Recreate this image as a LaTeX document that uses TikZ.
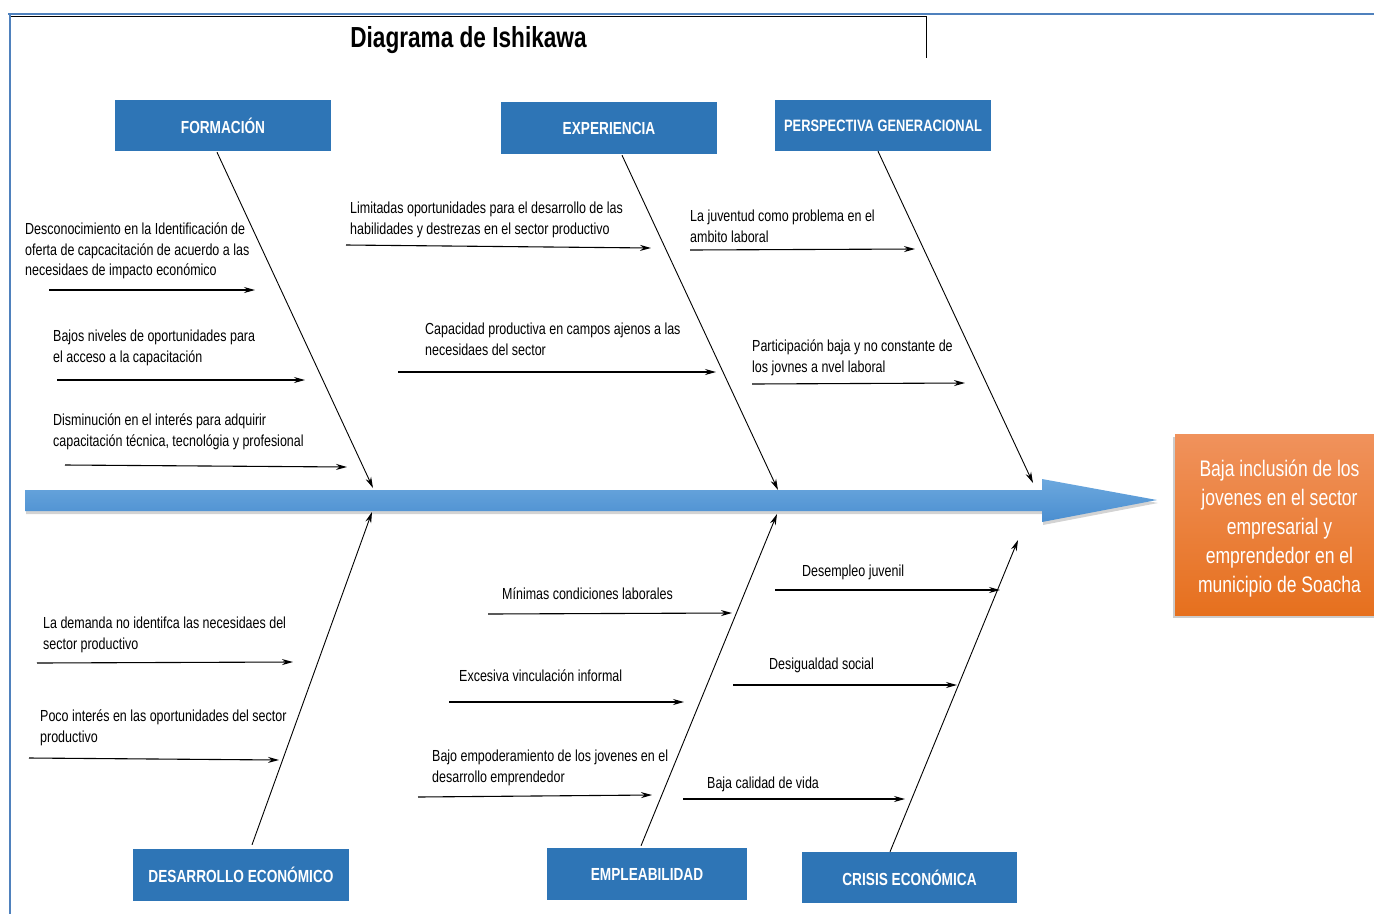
\documentclass[tikz,border=0pt]{standalone}
\usepackage{fontspec}
\setmainfont{Liberation Sans}[FakeStretch=0.78]
\usetikzlibrary{arrows.meta,shadows}
\definecolor{hdrblue}{HTML}{2E75B6}
\definecolor{frameblue}{HTML}{4F81BD}
\definecolor{spinetop}{HTML}{6CA8DE}
\definecolor{spinebot}{HTML}{4A8ED0}
\definecolor{goaltop}{HTML}{F0925C}
\definecolor{goalbot}{HTML}{E6701E}
\tikzset{
  hdr/.style={fill=hdrblue, text=white, inner sep=0pt, minimum width=216pt, minimum height=51pt, font=\bfseries\fontsize{17.5}{19}\selectfont},
  lbl/.style={anchor=north west, align=left, inner sep=0pt, font=\fontsize{16}{20.5}\selectfont},
  bone/.style={-{Stealth[length=11pt,width=6pt]}, line width=0.9pt},
  cause/.style={-{Stealth[length=11pt,width=6pt]}, line width=1.1pt},
}
\begin{document}
\begin{tikzpicture}[x=1pt,y=-1pt]
\useasboundingbox (0,0) rectangle (1374,914);
\draw[frameblue, line width=2pt] (8,14) -- (1374,14);
\draw[line width=1pt] (9,16) -- (926,16) -- (926,58);
\draw[frameblue, line width=2pt] (9.5,14) -- (9.5,914);
\node[font=\bfseries\fontsize{29}{32}\selectfont, anchor=base] (title) at (468.5,47) {Diagrama de Ishikawa};
\path[top color=spinetop, bottom color=spinebot, drop shadow={shadow xshift=1pt, shadow yshift=-3pt, opacity=0.35}] (25,490) -- (1042,490) -- (1042,479) -- (1157,500) -- (1042,522) -- (1042,511) -- (25,511) -- cycle;
\node[top color=goaltop, bottom color=goalbot, inner sep=0pt, minimum width=209pt, minimum height=181pt, drop shadow={shadow xshift=-2pt, shadow yshift=-3pt, opacity=0.4}] (goal) at (1279.5,524.5) {};
\node[text=white, align=center, inner sep=0pt, font=\fontsize{22.5}{29}\selectfont] (goaltxt) at ([yshift=-4pt]goal.center) {Baja inclusión de los\\jovenes en el sector\\empresarial y\\emprendedor en el\\municipio de Soacha};
\node[hdr] (form) at (223,125.5) {FORMACIÓN};
\node[hdr, minimum height=52pt] (expe) at (609,128) {EXPERIENCIA};
\node[hdr, font=\bfseries\fontsize{16.5}{18}\selectfont] (persp) at (883,125.5) {PERSPECTIVA GENERACIONAL};
\node[hdr, minimum height=52pt] (desa) at (241,875) {DESARROLLO ECONÓMICO};
\node[hdr, minimum width=200pt, minimum height=52pt] (empl) at (647,874) {EMPLEABILIDAD};
\node[hdr, minimum width=215pt] (cris) at (909.5,877.5) {CRISIS ECONÓMICA};
\coordinate (formTip) at (373,488);
\coordinate (expeTip) at (778,490);
\coordinate (perspTip) at (1033,483);
\coordinate (desaTip) at (372,512);
\coordinate (emplTip) at (777,514);
\coordinate (crisTip) at (1018,540);
\draw[bone] ([xshift=-6pt,yshift=-1pt]form.south) -- (formTip);
\draw[bone] ([xshift=13pt,yshift=-1pt]expe.south) -- (expeTip);
\draw[bone] ([xshift=-5pt]persp.south) -- (perspTip);
\draw[bone] ([xshift=11pt,yshift=4pt]desa.north) -- (desaTip);
\draw[bone] ([xshift=-6pt,yshift=2pt]empl.north) -- (emplTip);
\draw[bone] ([xshift=-19.5pt]cris.north) -- (crisTip);
\node[lbl] (f1) at (25,223) {Desconocimiento en la Identificación de\\oferta de capcacitación de acuerdo a las\\necesidaes de impacto económico};
\node[lbl] (f2) at (53,330) {Bajos niveles de oportunidades para\\el acceso a la capacitación};
\node[lbl] (f3) at (53,414) {Disminución en el interés para adquirir\\capacitación técnica, tecnológia y profesional};
\node[lbl] (e1) at (350,202) {Limitadas oportunidades para el desarrollo de las\\habilidades y destrezas en el sector productivo};
\node[lbl] (e2) at (425,323) {Capacidad productiva en campos ajenos a las\\necesidaes del sector};
\node[lbl] (p1) at (690,210) {La juventud como problema en el\\ambito laboral};
\node[lbl] (p2) at (752,340) {Participación baja y no constante de\\los jovnes a nvel laboral};
\node[lbl] (d1) at (43,617) {La demanda no identifca las necesidaes del\\sector productivo};
\node[lbl] (d2) at (40,710) {Poco interés en las oportunidades del sector\\productivo};
\node[lbl] (m1) at (502,588) {Mínimas condiciones laborales};
\node[lbl] (m2) at (459,670) {Excesiva vinculación informal};
\node[lbl] (m3) at (432,750) {Bajo empoderamiento de los jovenes en el\\desarrollo emprendedor};
\node[lbl] (c1) at (802,565) {Desempleo juvenil};
\node[lbl] (c2) at (769,658) {Desigualdad social};
\node[lbl] (c3) at (707,777) {Baja calidad de vida};
\coordinate (f1a) at (49,290);  \coordinate (f1b) at (255,290);
\coordinate (f2a) at (57,380);  \coordinate (f2b) at (305,380);
\coordinate (f3a) at (65,465);  \coordinate (f3b) at (347,467);
\coordinate (e1a) at (346,245); \coordinate (e1b) at (651,248);
\coordinate (e2a) at (398,372); \coordinate (e2b) at (716,372);
\coordinate (p1a) at (690,250); \coordinate (p1b) at (915,249);
\coordinate (p2a) at (752,384); \coordinate (p2b) at (965,383);
\coordinate (d1a) at (37,663);  \coordinate (d1b) at (293,662);
\coordinate (d2a) at (29,758);  \coordinate (d2b) at (279,760);
\coordinate (m1a) at (488,614); \coordinate (m1b) at (732,613);
\coordinate (m2a) at (449,702); \coordinate (m2b) at (684,702);
\coordinate (m3a) at (418,797); \coordinate (m3b) at (652,795);
\coordinate (c1a) at (775,590); \coordinate (c1b) at (1000,590);
\coordinate (c2a) at (733,685); \coordinate (c2b) at (957,685);
\coordinate (c3a) at (683,799); \coordinate (c3b) at (905,799);
\draw[cause] (f1a) -- (f1b);
\draw[cause] (f2a) -- (f2b);
\draw[cause] (f3a) -- (f3b);
\draw[cause] (e1a) -- (e1b);
\draw[cause] (e2a) -- (e2b);
\draw[cause] (p1a) -- (p1b);
\draw[cause] (p2a) -- (p2b);
\draw[cause] (d1a) -- (d1b);
\draw[cause] (d2a) -- (d2b);
\draw[cause] (m1a) -- (m1b);
\draw[cause] (m2a) -- (m2b);
\draw[cause] (m3a) -- (m3b);
\draw[cause] (c1a) -- (c1b);
\draw[cause] (c2a) -- (c2b);
\draw[cause] (c3a) -- (c3b);
\end{tikzpicture}
\end{document}
